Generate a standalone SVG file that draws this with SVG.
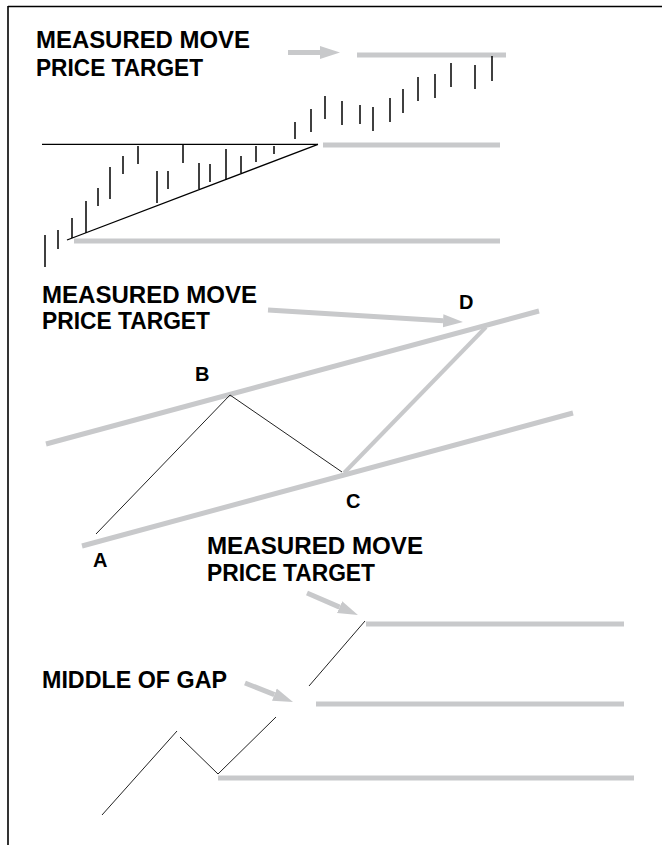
<svg xmlns="http://www.w3.org/2000/svg" width="662" height="845" viewBox="0 0 662 845">
<defs>
<style>
.t{font-family:"Liberation Sans",Arial,sans-serif;font-weight:bold;font-size:23px;fill:#000}
.l{font-family:"Liberation Sans",Arial,sans-serif;font-weight:bold;font-size:20px;fill:#000}
.g{stroke:#c8c9cb;stroke-width:5;fill:none}
.gt{stroke:#c8c9cb;stroke-width:4;fill:none}
.bar{stroke:#000;stroke-width:1.5}
.k{stroke:#000;stroke-width:1.3;fill:none}
.kt{stroke:#222;stroke-width:1;fill:none}
.arr{stroke:#c8c9cb;stroke-width:5;fill:none;marker-end:url(#ah)}
</style>
<marker id="ah" markerUnits="userSpaceOnUse" viewBox="0 -7 20 14" markerWidth="20" markerHeight="14" refX="0" refY="0" orient="auto">
<path d="M0,-6.5 L20,0 L0,6.5 z" fill="#c8c9cb"/>
</marker>
</defs>
<rect width="662" height="845" fill="#fff"/>
<g id="frame">
<line x1="8" y1="6.5" x2="662" y2="6.5" stroke="#000" stroke-width="1.6"/>
<line x1="8" y1="6" x2="8" y2="845" stroke="#000" stroke-width="1.6"/>
</g>

<g id="chart1">
<line class="g" x1="357" y1="55" x2="506" y2="55"/>
<line class="g" x1="323" y1="145" x2="500" y2="145"/>
<line class="g" x1="74" y1="241" x2="500" y2="241"/>
<line class="k" x1="42" y1="144.3" x2="318" y2="144.3"/>
<line class="k" x1="67" y1="240" x2="318" y2="144.3"/>
<g class="bar">
<line x1="45" y1="235" x2="45" y2="267"/>
<line x1="58" y1="230" x2="58" y2="249"/>
<line x1="72" y1="218" x2="72" y2="238"/>
<line x1="86" y1="201" x2="86" y2="233"/>
<line x1="98" y1="188" x2="98" y2="206"/>
<line x1="110" y1="167" x2="110" y2="199"/>
<line x1="123" y1="156" x2="123" y2="174"/>
<line x1="138" y1="146" x2="138" y2="164"/>
<line x1="157" y1="171" x2="157" y2="203"/>
<line x1="168" y1="171" x2="168" y2="189"/>
<line x1="183" y1="144" x2="183" y2="163"/>
<line x1="199" y1="163" x2="199" y2="189"/>
<line x1="210" y1="164" x2="210" y2="182"/>
<line x1="226" y1="149" x2="226" y2="180"/>
<line x1="241" y1="156" x2="241" y2="173"/>
<line x1="256" y1="146" x2="256" y2="162"/>
<line x1="274" y1="146" x2="274" y2="154"/>
<line x1="295" y1="122" x2="295" y2="139"/>
<line x1="311" y1="109" x2="311" y2="132"/>
<line x1="325" y1="96" x2="325" y2="119"/>
<line x1="342" y1="101" x2="342" y2="125"/>
<line x1="360" y1="105" x2="360" y2="124"/>
<line x1="373" y1="107" x2="373" y2="131"/>
<line x1="390" y1="98" x2="390" y2="122"/>
<line x1="403" y1="89" x2="403" y2="113"/>
<line x1="418" y1="77" x2="418" y2="101"/>
<line x1="435" y1="74" x2="435" y2="98"/>
<line x1="451" y1="63" x2="451" y2="87"/>
<line x1="475" y1="65" x2="475" y2="89"/>
<line x1="492" y1="56" x2="492" y2="81"/>
</g>
</g>
<g id="label1">
<text class="t" x="36" y="48" textLength="214" lengthAdjust="spacingAndGlyphs">MEASURED MOVE</text>
<text class="t" x="36" y="76" textLength="167" lengthAdjust="spacingAndGlyphs">PRICE TARGET</text>
</g>

<g id="chart2">
<line class="g" x1="46" y1="444" x2="539" y2="311"/>
<line class="g" x1="82" y1="546" x2="573" y2="413"/>
<polyline class="kt" points="96,534 230,395 342,472"/>
<line class="gt" x1="344" y1="473" x2="486" y2="327"/>
</g>
<g id="label2">
<text class="t" x="42" y="303" textLength="215" lengthAdjust="spacingAndGlyphs">MEASURED MOVE</text>
<text class="t" x="42" y="329" textLength="168" lengthAdjust="spacingAndGlyphs">PRICE TARGET</text>
</g>
<g id="pointA"><text class="l" x="93" y="567">A</text></g>
<g id="pointB"><text class="l" x="195" y="381">B</text></g>
<g id="pointC"><text class="l" x="346" y="508">C</text></g>
<g id="pointD"><text class="l" x="459" y="309">D</text></g>

<g id="chart3">
<line class="g" x1="366" y1="624" x2="624" y2="624"/>
<line class="g" x1="316" y1="704" x2="624" y2="704"/>
<line class="g" x1="218" y1="778" x2="634" y2="778"/>
<line class="kt" x1="309" y1="686" x2="365" y2="621"/>
<line class="kt" x1="102" y1="815" x2="177" y2="731"/>
<polyline class="kt" points="180,737 218,774 276,717"/>
</g>
<g id="label3">
<text class="t" x="207" y="554" textLength="216" lengthAdjust="spacingAndGlyphs">MEASURED MOVE</text>
<text class="t" x="207" y="581" textLength="168" lengthAdjust="spacingAndGlyphs">PRICE TARGET</text>
</g>
<g id="label4">
<text class="t" x="42" y="688" textLength="185" lengthAdjust="spacingAndGlyphs">MIDDLE OF GAP</text>
</g>

<g id="connectors">
<line class="arr" x1="288" y1="52.5" x2="320" y2="52.5"/>
<line class="arr" x1="268" y1="310" x2="443" y2="320.8"/>
<line class="arr" x1="307" y1="593" x2="339.6" y2="607.1"/>
<line class="arr" x1="245" y1="683" x2="274.4" y2="694.6"/>
</g>
</svg>
